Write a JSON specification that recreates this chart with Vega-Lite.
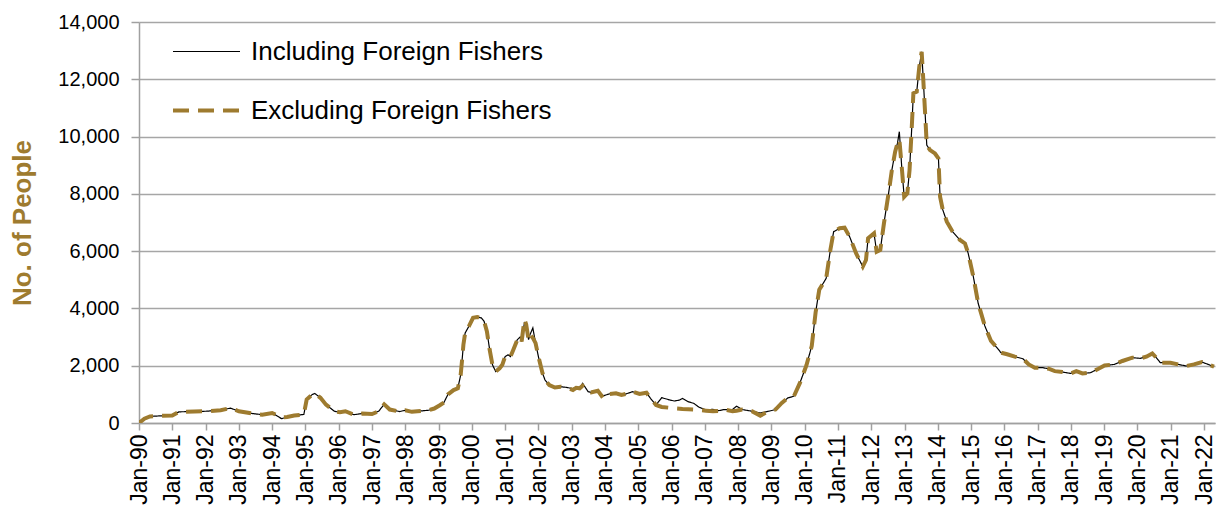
{
  "$schema": "https://vega.github.io/schema/vega-lite/v6.json",
  "width": 1076,
  "height": 401,
  "autosize": {"type": "none"},
  "padding": {"left": 139, "top": 22, "right": 9, "bottom": 90},
  "background": "white",
  "config": {
    "font": "Liberation Sans",
    "view": {"stroke": null},
    "axis": {"labelFont": "Liberation Sans", "labelColor": "#000000", "domainColor": "#A0A0A0", "tickColor": "#A0A0A0", "gridColor": "#A6A6A6"}
  },
  "data": {
    "values": [
      {"d": "1990-01-01", "inc": 50, "exc": 0},
      {"d": "1990-03-01", "inc": 150, "exc": 150},
      {"d": "1990-05-01", "inc": 230, "exc": 230},
      {"d": "1990-09-01", "inc": 250, "exc": 250},
      {"d": "1991-01-01", "inc": 260, "exc": 260},
      {"d": "1991-03-15", "inc": 390, "exc": 390},
      {"d": "1991-09-01", "inc": 400, "exc": 400},
      {"d": "1992-01-01", "inc": 410, "exc": 410},
      {"d": "1992-06-15", "inc": 445, "exc": 445},
      {"d": "1992-10-01", "inc": 520, "exc": 520},
      {"d": "1993-01-01", "inc": 410, "exc": 410},
      {"d": "1993-06-01", "inc": 330, "exc": 330},
      {"d": "1993-09-15", "inc": 290, "exc": 290},
      {"d": "1994-01-01", "inc": 350, "exc": 350},
      {"d": "1994-04-15", "inc": 150, "exc": 200},
      {"d": "1994-06-15", "inc": 210, "exc": 210},
      {"d": "1994-09-01", "inc": 260, "exc": 260},
      {"d": "1994-12-15", "inc": 300, "exc": 300},
      {"d": "1995-01-15", "inc": 820, "exc": 820},
      {"d": "1995-03-15", "inc": 990, "exc": 990},
      {"d": "1995-04-15", "inc": 1030, "exc": 1030},
      {"d": "1995-06-15", "inc": 880, "exc": 880},
      {"d": "1995-08-15", "inc": 640, "exc": 640},
      {"d": "1995-11-15", "inc": 410, "exc": 410},
      {"d": "1996-01-15", "inc": 375, "exc": 375},
      {"d": "1996-03-15", "inc": 410, "exc": 410},
      {"d": "1996-06-15", "inc": 290, "exc": 290},
      {"d": "1996-09-15", "inc": 330, "exc": 330},
      {"d": "1997-01-01", "inc": 315, "exc": 315},
      {"d": "1997-03-15", "inc": 410, "exc": 410},
      {"d": "1997-05-15", "inc": 650, "exc": 650},
      {"d": "1997-07-15", "inc": 470, "exc": 470},
      {"d": "1997-11-01", "inc": 400, "exc": 400},
      {"d": "1998-01-01", "inc": 445, "exc": 445},
      {"d": "1998-03-15", "inc": 390, "exc": 390},
      {"d": "1998-05-15", "inc": 410, "exc": 410},
      {"d": "1998-09-15", "inc": 445, "exc": 445},
      {"d": "1998-11-15", "inc": 505, "exc": 505},
      {"d": "1999-01-15", "inc": 620, "exc": 620},
      {"d": "1999-03-01", "inc": 715, "exc": 715},
      {"d": "1999-04-15", "inc": 1000, "exc": 1000},
      {"d": "1999-06-15", "inc": 1150, "exc": 1150},
      {"d": "1999-08-01", "inc": 1210, "exc": 1210},
      {"d": "1999-09-01", "inc": 1680, "exc": 1680},
      {"d": "1999-09-20", "inc": 2320, "exc": 2320},
      {"d": "1999-10-01", "inc": 2730, "exc": 2730},
      {"d": "1999-10-20", "inc": 3140, "exc": 3140},
      {"d": "1999-12-01", "inc": 3380, "exc": 3380},
      {"d": "2000-01-15", "inc": 3670, "exc": 3670},
      {"d": "2000-03-01", "inc": 3700, "exc": 3700},
      {"d": "2000-04-15", "inc": 3670, "exc": 3670},
      {"d": "2000-05-15", "inc": 3550, "exc": 3550},
      {"d": "2000-06-15", "inc": 3200, "exc": 3200},
      {"d": "2000-07-15", "inc": 2560, "exc": 2560},
      {"d": "2000-08-15", "inc": 2030, "exc": 2030},
      {"d": "2000-09-20", "inc": 1795, "exc": 1795},
      {"d": "2000-11-01", "inc": 1910, "exc": 1910},
      {"d": "2000-12-01", "inc": 2030, "exc": 2030},
      {"d": "2001-01-01", "inc": 2320, "exc": 2320},
      {"d": "2001-02-01", "inc": 2380, "exc": 2380},
      {"d": "2001-03-01", "inc": 2320, "exc": 2320},
      {"d": "2001-04-01", "inc": 2560, "exc": 2560},
      {"d": "2001-05-15", "inc": 2910, "exc": 2910},
      {"d": "2001-06-15", "inc": 3000, "exc": 3000},
      {"d": "2001-07-01", "inc": 2850, "exc": 2850},
      {"d": "2001-08-01", "inc": 3500, "exc": 3610},
      {"d": "2001-08-20", "inc": 3440, "exc": 3440},
      {"d": "2001-09-15", "inc": 2910, "exc": 2910},
      {"d": "2001-10-01", "inc": 3085, "exc": 3085},
      {"d": "2001-11-01", "inc": 3320, "exc": 2970},
      {"d": "2001-12-01", "inc": 2790, "exc": 2790},
      {"d": "2002-01-01", "inc": 2320, "exc": 2320},
      {"d": "2002-02-15", "inc": 1740, "exc": 1740},
      {"d": "2002-03-15", "inc": 1500, "exc": 1500},
      {"d": "2002-05-01", "inc": 1325, "exc": 1325},
      {"d": "2002-07-01", "inc": 1240, "exc": 1240},
      {"d": "2002-09-01", "inc": 1268, "exc": 1268},
      {"d": "2002-11-01", "inc": 1245, "exc": 1245},
      {"d": "2003-01-15", "inc": 1200, "exc": 1152},
      {"d": "2003-02-20", "inc": 1268, "exc": 1230},
      {"d": "2003-03-30", "inc": 1210, "exc": 1210},
      {"d": "2003-05-01", "inc": 1384, "exc": 1300},
      {"d": "2003-07-01", "inc": 1094, "exc": 1094},
      {"d": "2003-08-01", "inc": 1070, "exc": 1070},
      {"d": "2003-10-15", "inc": 1128, "exc": 1128},
      {"d": "2003-12-15", "inc": 950, "exc": 861},
      {"d": "2004-02-15", "inc": 1012, "exc": 1012},
      {"d": "2004-05-01", "inc": 1036, "exc": 1036},
      {"d": "2004-07-01", "inc": 977, "exc": 977},
      {"d": "2004-08-15", "inc": 1012, "exc": 1012},
      {"d": "2004-11-01", "inc": 1094, "exc": 1094},
      {"d": "2005-01-15", "inc": 1012, "exc": 1012},
      {"d": "2005-04-01", "inc": 1059, "exc": 1059},
      {"d": "2005-05-15", "inc": 861, "exc": 861},
      {"d": "2005-07-15", "inc": 628, "exc": 628},
      {"d": "2005-09-15", "inc": 884, "exc": 560},
      {"d": "2005-12-15", "inc": 803, "exc": 530},
      {"d": "2006-02-01", "inc": 768, "exc": 512},
      {"d": "2006-04-01", "inc": 803, "exc": 500},
      {"d": "2006-05-01", "inc": 861, "exc": 490},
      {"d": "2006-07-01", "inc": 745, "exc": 480},
      {"d": "2006-09-01", "inc": 687, "exc": 470},
      {"d": "2006-11-01", "inc": 547, "exc": 454},
      {"d": "2007-01-15", "inc": 454, "exc": 430},
      {"d": "2007-04-01", "inc": 477, "exc": 410},
      {"d": "2007-06-01", "inc": 430, "exc": 420},
      {"d": "2007-08-01", "inc": 470, "exc": 470},
      {"d": "2007-11-01", "inc": 470, "exc": 410},
      {"d": "2007-12-15", "inc": 585, "exc": 430},
      {"d": "2008-02-15", "inc": 470, "exc": 470},
      {"d": "2008-06-01", "inc": 410, "exc": 410},
      {"d": "2008-09-01", "inc": 350, "exc": 257},
      {"d": "2008-12-01", "inc": 410, "exc": 410},
      {"d": "2009-02-15", "inc": 470, "exc": 470},
      {"d": "2009-04-25", "inc": 700, "exc": 700},
      {"d": "2009-07-01", "inc": 877, "exc": 877},
      {"d": "2009-09-05", "inc": 935, "exc": 935},
      {"d": "2009-11-10", "inc": 1400, "exc": 1400},
      {"d": "2010-01-20", "inc": 2010, "exc": 2010},
      {"d": "2010-03-20", "inc": 2690, "exc": 2690},
      {"d": "2010-05-01", "inc": 3860, "exc": 3860},
      {"d": "2010-06-10", "inc": 4650, "exc": 4650},
      {"d": "2010-08-25", "inc": 5050, "exc": 5050},
      {"d": "2010-10-10", "inc": 6040, "exc": 6040},
      {"d": "2010-11-15", "inc": 6680, "exc": 6680},
      {"d": "2011-01-20", "inc": 6800, "exc": 6800},
      {"d": "2011-03-15", "inc": 6820, "exc": 6820},
      {"d": "2011-05-10", "inc": 6500, "exc": 6500},
      {"d": "2011-07-20", "inc": 5920, "exc": 5920},
      {"d": "2011-10-01", "inc": 5460, "exc": 5460},
      {"d": "2011-11-05", "inc": 5690, "exc": 5690},
      {"d": "2011-11-28", "inc": 6450, "exc": 6450},
      {"d": "2012-02-01", "inc": 6620, "exc": 6620},
      {"d": "2012-03-01", "inc": 5980, "exc": 5980},
      {"d": "2012-04-10", "inc": 6040, "exc": 6040},
      {"d": "2012-05-20", "inc": 6970, "exc": 6970},
      {"d": "2012-07-10", "inc": 8020, "exc": 8020},
      {"d": "2012-08-15", "inc": 8830, "exc": 8830},
      {"d": "2012-09-20", "inc": 9470, "exc": 9470},
      {"d": "2012-10-15", "inc": 9760, "exc": 9760},
      {"d": "2012-11-05", "inc": 10170, "exc": 9900},
      {"d": "2012-12-01", "inc": 8950, "exc": 8950},
      {"d": "2012-12-28", "inc": 7900, "exc": 7900},
      {"d": "2013-02-01", "inc": 8020, "exc": 8020},
      {"d": "2013-02-25", "inc": 8830, "exc": 8830},
      {"d": "2013-03-20", "inc": 10230, "exc": 10230},
      {"d": "2013-04-08", "inc": 11510, "exc": 11510},
      {"d": "2013-05-15", "inc": 11570, "exc": 11570},
      {"d": "2013-06-12", "inc": 12440, "exc": 12440},
      {"d": "2013-07-08", "inc": 12960, "exc": 12960},
      {"d": "2013-07-26", "inc": 11970, "exc": 11970},
      {"d": "2013-08-15", "inc": 10810, "exc": 10810},
      {"d": "2013-09-02", "inc": 9700, "exc": 9700},
      {"d": "2013-10-08", "inc": 9530, "exc": 9530},
      {"d": "2013-12-01", "inc": 9410, "exc": 9410},
      {"d": "2014-01-08", "inc": 9240, "exc": 9240},
      {"d": "2014-01-26", "inc": 7900, "exc": 7900},
      {"d": "2014-02-25", "inc": 7440, "exc": 7440},
      {"d": "2014-04-10", "inc": 7030, "exc": 7030},
      {"d": "2014-06-12", "inc": 6680, "exc": 6680},
      {"d": "2014-09-01", "inc": 6390, "exc": 6390},
      {"d": "2014-10-26", "inc": 6270, "exc": 6270},
      {"d": "2014-12-01", "inc": 5920, "exc": 5920},
      {"d": "2015-01-26", "inc": 5110, "exc": 5110},
      {"d": "2015-03-20", "inc": 4180, "exc": 4180},
      {"d": "2015-06-01", "inc": 3390, "exc": 3390},
      {"d": "2015-08-08", "inc": 2865, "exc": 2865},
      {"d": "2015-10-12", "inc": 2630, "exc": 2630},
      {"d": "2015-11-25", "inc": 2455, "exc": 2455},
      {"d": "2016-02-01", "inc": 2400, "exc": 2400},
      {"d": "2016-04-25", "inc": 2315, "exc": 2315},
      {"d": "2016-07-22", "inc": 2245, "exc": 2245},
      {"d": "2016-09-25", "inc": 2045, "exc": 2045},
      {"d": "2016-12-01", "inc": 1930, "exc": 1930},
      {"d": "2017-02-28", "inc": 1930, "exc": 1930},
      {"d": "2017-05-01", "inc": 1895, "exc": 1895},
      {"d": "2017-07-08", "inc": 1810, "exc": 1810},
      {"d": "2017-10-01", "inc": 1780, "exc": 1780},
      {"d": "2017-12-28", "inc": 1730, "exc": 1730},
      {"d": "2018-03-01", "inc": 1810, "exc": 1810},
      {"d": "2018-05-08", "inc": 1730, "exc": 1730},
      {"d": "2018-08-03", "inc": 1755, "exc": 1755},
      {"d": "2018-10-30", "inc": 1895, "exc": 1895},
      {"d": "2019-01-05", "inc": 2010, "exc": 2010},
      {"d": "2019-04-22", "inc": 2045, "exc": 2045},
      {"d": "2019-07-20", "inc": 2165, "exc": 2165},
      {"d": "2019-11-05", "inc": 2280, "exc": 2280},
      {"d": "2020-02-01", "inc": 2257, "exc": 2257},
      {"d": "2020-04-08", "inc": 2315, "exc": 2315},
      {"d": "2020-06-12", "inc": 2430, "exc": 2430},
      {"d": "2020-07-26", "inc": 2280, "exc": 2280},
      {"d": "2020-09-08", "inc": 2105, "exc": 2105},
      {"d": "2020-12-28", "inc": 2105, "exc": 2105},
      {"d": "2021-03-25", "inc": 2045, "exc": 2045},
      {"d": "2021-06-20", "inc": 1990, "exc": 1990},
      {"d": "2021-09-12", "inc": 2045, "exc": 2045},
      {"d": "2021-12-08", "inc": 2130, "exc": 2130},
      {"d": "2022-02-15", "inc": 2045, "exc": 2045},
      {"d": "2022-04-20", "inc": 1965, "exc": 1965}
    ]
  },
  "transform": [{"fold": ["inc", "exc"], "as": ["series", "value"]}],
  "mark": {"type": "line", "clip": true},
  "encoding": {
    "x": {
      "field": "d",
      "type": "temporal",
      "scale": {"type": "utc", "domain": [{"year": 1990, "month": 1, "date": 1, "utc": true}, {"year": 2022, "month": 5, "date": 1, "utc": true}]},
      "axis": {
        "title": null,
        "labelExpr": "utcFormat(datum.value, '%b-%y')",
        "tickCount": {"interval": "year", "step": 1},
        "labelAngle": -90,
        "labelFontSize": 23,
        "labelPadding": 4,
        "tickSize": 7,
        "tickWidth": 1.5,
        "domainWidth": 1.5,
        "grid": false,
        "labelOverlap": false,
        "labelBound": false
      }
    },
    "y": {
      "field": "value",
      "type": "quantitative",
      "scale": {"domain": [0, 14000], "nice": false},
      "axis": {
        "title": "No. of People",
        "titleFontSize": 26,
        "titleFontWeight": "bold",
        "titleColor": "#9E7B2F",
        "titleFont": "Liberation Sans",
        "titleX": -117,
        "titleBaseline": "middle",
        "values": [0, 2000, 4000, 6000, 8000, 10000, 12000, 14000],
        "format": ",d",
        "labelFontSize": 20,
        "labelPadding": 12,
        "tickSize": 8,
        "tickWidth": 1.5,
        "domainWidth": 1.5,
        "grid": true,
        "gridWidth": 1.5
      }
    },
    "color": {
      "field": "series",
      "type": "nominal",
      "scale": {"domain": ["inc", "exc"], "range": ["#000000", "#9E7B2F"]},
      "legend": {
        "title": null,
        "orient": "none",
        "legendX": 32,
        "legendY": -5,
        "symbolType": "stroke",
        "symbolSize": 4489,
        "labelFontSize": 26,
        "labelFont": "Liberation Sans",
        "labelColor": "#000000",
        "labelOffset": 9,
        "labelLimit": 0,
        "rowPadding": 10,
        "labelExpr": "datum.label == 'inc' ? 'Including Foreign Fishers' : 'Excluding Foreign Fishers'"
      }
    },
    "strokeDash": {
      "field": "series",
      "type": "nominal",
      "scale": {"domain": ["inc", "exc"], "range": [[1, 0], [16, 9]]}
    },
    "strokeWidth": {
      "field": "series",
      "type": "nominal",
      "scale": {"domain": ["inc", "exc"], "range": [1.2, 4]}
    }
  }
}
